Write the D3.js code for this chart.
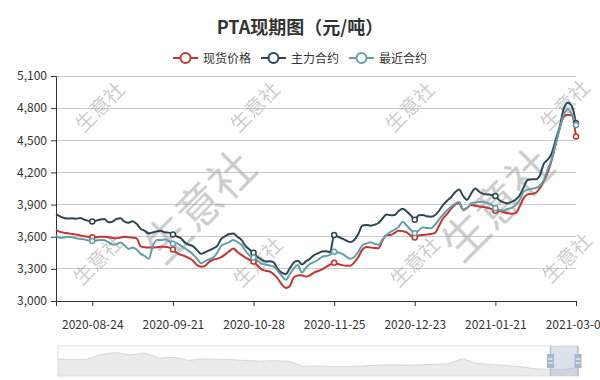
<!DOCTYPE html>
<html><head><meta charset="utf-8">
<script src="https://cdn.jsdelivr.net/npm/d3@7"></script>
<style>
body{margin:0;background:#fff}
svg{display:block}
text{font-family:"Noto Sans CJK SC","Noto Sans",sans-serif}
</style>
</head><body>
<svg id="chart" width="600" height="380"></svg>
<script>
// ---------------- data ----------------
const title = "PTA现期图（元/吨）";
const seriesNames = ["现货价格", "主力合约", "最近合约"];
const dates = [
"2020-08-11","2020-08-12","2020-08-13","2020-08-14","2020-08-17","2020-08-18","2020-08-19","2020-08-20","2020-08-21","2020-08-24",
"2020-08-25","2020-08-26","2020-08-27","2020-08-28","2020-08-31","2020-09-01","2020-09-02","2020-09-03","2020-09-04","2020-09-07",
"2020-09-08","2020-09-09","2020-09-10","2020-09-11","2020-09-14","2020-09-15","2020-09-16","2020-09-17","2020-09-18","2020-09-21",
"2020-09-22","2020-09-23","2020-09-24","2020-09-25","2020-09-28","2020-09-29","2020-10-09","2020-10-12","2020-10-13","2020-10-14",
"2020-10-15","2020-10-16","2020-10-19","2020-10-20","2020-10-21","2020-10-22","2020-10-23","2020-10-26","2020-10-27","2020-10-28",
"2020-10-29","2020-10-30","2020-11-02","2020-11-03","2020-11-04","2020-11-05","2020-11-06","2020-11-09","2020-11-10","2020-11-11",
"2020-11-12","2020-11-13","2020-11-16","2020-11-17","2020-11-18","2020-11-19","2020-11-20","2020-11-23","2020-11-24","2020-11-25",
"2020-11-26","2020-11-27","2020-11-30","2020-12-01","2020-12-02","2020-12-03","2020-12-04","2020-12-07","2020-12-08","2020-12-09",
"2020-12-10","2020-12-11","2020-12-14","2020-12-15","2020-12-16","2020-12-17","2020-12-18","2020-12-21","2020-12-22","2020-12-23",
"2020-12-24","2020-12-25","2020-12-28","2020-12-29","2020-12-30","2020-12-31","2021-01-04","2021-01-05","2021-01-06","2021-01-07",
"2021-01-08","2021-01-11","2021-01-12","2021-01-13","2021-01-14","2021-01-15","2021-01-18","2021-01-19","2021-01-20","2021-01-21",
"2021-01-22","2021-01-25","2021-01-26","2021-01-27","2021-01-28","2021-01-29","2021-02-01","2021-02-02","2021-02-03","2021-02-04",
"2021-02-05","2021-02-08","2021-02-18","2021-02-19","2021-02-22","2021-02-23","2021-02-24","2021-02-25","2021-02-26","2021-03-01"];

const spotPrice = [
3665,3645,3638,3632,3625,3620,3612,3605,3598,3594,
3596,3600,3600,3595,3588,3585,3592,3600,3595,3592,
3585,3510,3502,3500,3500,3502,3507,3507,3500,3480,
3448,3430,3418,3400,3375,3335,3320,3328,3365,3385,
3395,3410,3435,3465,3490,3458,3430,3405,3385,3368,
3330,3295,3282,3276,3250,3210,3155,3122,3140,3222,
3238,3240,3228,3240,3265,3280,3295,3318,3340,3358,
3345,3335,3330,3330,3360,3410,3480,3505,3500,3495,
3492,3565,3615,3616,3635,3656,3652,3640,3610,3592,
3612,3616,3620,3625,3635,3700,3770,3810,3860,3900,
3915,3850,3870,3895,3890,3882,3878,3870,3860,3843,
3843,3830,3818,3815,3820,3880,3960,3995,4000,4010,
4050,4120,4200,4320,4470,4620,4720,4738,4730,4535];

const mainContract = [
3810,3790,3775,3770,3772,3768,3775,3760,3748,3742,
3750,3760,3765,3735,3740,3765,3772,3740,3730,3745,
3720,3675,3655,3632,3640,3650,3655,3642,3638,3620,
3602,3585,3545,3525,3510,3475,3440,3455,3472,3490,
3515,3580,3605,3625,3630,3600,3570,3515,3480,3450,
3410,3385,3368,3370,3360,3300,3265,3250,3305,3360,
3375,3340,3370,3395,3428,3445,3462,3465,3455,3615,
3600,3583,3565,3550,3570,3625,3705,3710,3703,3712,
3728,3770,3808,3800,3803,3840,3862,3835,3800,3758,
3800,3803,3790,3787,3800,3840,3895,3935,3968,4015,
4040,3980,3945,4005,4050,4020,4000,3995,3990,3980,
3940,3920,3912,3925,3945,3985,4060,4130,4136,4136,
4170,4280,4320,4380,4510,4630,4800,4850,4815,4660];

const nearestContract = [
3610,3590,3592,3600,3595,3585,3580,3575,3565,3560,
3565,3570,3568,3550,3528,3530,3545,3520,3485,3500,
3480,3440,3420,3395,3510,3570,3570,3575,3560,3535,
3538,3515,3490,3465,3435,3395,3352,3372,3390,3405,
3450,3515,3535,3550,3570,3550,3525,3470,3425,3405,
3375,3350,3340,3332,3322,3280,3235,3198,3250,3305,
3335,3265,3310,3345,3362,3385,3412,3420,3430,3460,
3452,3440,3415,3395,3410,3460,3520,3535,3548,3535,
3525,3575,3615,3645,3665,3690,3740,3705,3665,3632,
3660,3687,3682,3678,3710,3760,3805,3845,3880,3910,
3925,3855,3870,3910,3920,3925,3925,3915,3900,3865,
3850,3845,3860,3870,3895,3940,4020,4040,4048,4055,
4075,4130,4230,4330,4470,4620,4740,4790,4740,4643];

const yTickValues = [3000, 3300, 3600, 3900, 4200, 4500, 4800, 5100];
const xTickLabels = ["2020-08-24","2020-09-21","2020-10-28","2020-11-25","2020-12-23","2021-01-21","2021-03-01"];

// long-history shadow shown in the zoom slider (price level, yuan/ton)
const historyShadow = [7630,7500,7600,9200,9800,9000,9700,8000,8300,7200,7700,7600,7400,7200,6950,7100,6900,5200,
  5350,5100,5100,5330,5560,5790,5560,5680,5900,6020,7800,6200,5800,5500,5100,4400,4180,4070,4870];
const windowStart = 0.947; // selected window share of the slider

// ---------------- drawing ----------------
(function draw() {
const colors = ["#c23531", "#2f4554", "#61a0a8"];
const seriesValues = [spotPrice, mainContract, nearestContract];

const svg = d3.select("#chart");
const pL = 56, pR = 576, pT = 76, pB = 301;

const x = d3.scalePoint().domain(dates).range([pL, pR]);
const y = d3.scaleLinear().domain([3000, 5100]).range([pB, pT]);

// title
svg.append("text").attr("x", 300).attr("y", 34).attr("text-anchor", "middle")
  .attr("font-size", 18).attr("font-weight", "bold").attr("fill", "#333").text(title);

// legend
const legendG = svg.append("g");
let lx = 0;
seriesNames.forEach((name, i) => {
  const g = legendG.append("g").attr("transform", `translate(${lx},0)`);
  g.append("line").attr("x1", 0).attr("x2", 25).attr("y1", 0).attr("y2", 0)
    .attr("stroke", colors[i]).attr("stroke-width", 2);
  g.append("circle").attr("cx", 12.5).attr("cy", 0).attr("r", 5)
    .attr("fill", "#fff").attr("stroke", colors[i]).attr("stroke-width", 2);
  const t = g.append("text").attr("x", 30).attr("y", 4.5).attr("font-size", 12)
    .attr("fill", "#333").text(name);
  lx += 30 + t.node().getComputedTextLength() + 10;
});
legendG.attr("transform", `translate(${300 - (lx - 10) / 2},58)`);

// grid
svg.append("g").selectAll("line").data(yTickValues.filter(v => v > 3000)).join("line")
  .attr("x1", pL).attr("x2", pR).attr("y1", d => y(d)).attr("y2", d => y(d))
  .attr("stroke", "#ccc").attr("stroke-width", 1).attr("shape-rendering", "crispEdges");

// watermark
const wm = svg.append("g").attr("fill", "#999").attr("opacity", 0.5);
const smallMarks = [[100,107],[255,107],[410,107],[565,105],[98,260],[258,262],[415,262],[567,258]];
smallMarks.forEach(([cx, cy]) => {
  wm.append("text").attr("transform", `translate(${cx},${cy}) rotate(-45)`)
    .attr("text-anchor", "middle").attr("dy", "0.35em").attr("font-size", 20).text("生意社");
});
[[200,207],[498,205]].forEach(([cx, cy]) => {
  wm.append("text").attr("transform", `translate(${cx},${cy}) rotate(-45)`)
    .attr("text-anchor", "middle").attr("dy", "0.35em").attr("font-size", 45).text("生意社");
});

// axes
const yAxis = svg.append("g").attr("transform", `translate(${pL},0)`)
  .call(d3.axisLeft(y).tickValues(yTickValues).tickFormat(d3.format(",")).tickSize(5).tickPadding(4));
const xTickDates = dates.filter(d => xTickLabels.includes(d));
const xAxis = svg.append("g").attr("transform", `translate(0,${pB})`)
  .call(d3.axisBottom(x).tickValues(xTickDates).tickSize(5).tickPadding(14));
[yAxis, xAxis].forEach(a => {
  a.select(".domain").attr("stroke", "#333");
  a.selectAll(".tick line").attr("stroke", "#333");
  a.selectAll("text").attr("font-size", 12).attr("fill", "#333")
    .attr("font-family", '"Noto Sans CJK SC","Noto Sans",sans-serif');
});

// lines
const line = d3.line().x((d, i) => x(dates[i])).y(d => y(d)).curve(d3.curveMonotoneX);
seriesValues.forEach((vals, s) => {
  svg.append("path").datum(vals).attr("d", line).attr("fill", "none")
    .attr("stroke", colors[s]).attr("stroke-width", 2).attr("stroke-linejoin", "round");
});
seriesValues.forEach((vals, s) => {
  svg.append("g").selectAll("circle")
    .data(dates.map((d, i) => [d, vals[i]]).filter(p => xTickDates.includes(p[0])))
    .join("circle").attr("cx", p => x(p[0])).attr("cy", p => y(p[1])).attr("r", 2.5)
    .attr("fill", "#fff").attr("stroke", colors[s]).attr("stroke-width", 1.5);
});

// data zoom slider
const sL = 58, sR = 578, sT = 346, sB = 376;
const sx = d3.scaleLinear().domain([0, historyShadow.length - 1]).range([sL, sR]);
const sy = d3.scaleLinear().domain([2000, 12000]).range([sB, sT]);
svg.append("path").datum(historyShadow)
  .attr("d", d3.area().x((d, i) => sx(i)).y0(sB).y1(d => sy(d)))
  .attr("fill", "#ebebeb");
svg.append("path").datum(historyShadow)
  .attr("d", d3.line().x((d, i) => sx(i)).y(d => sy(d)))
  .attr("fill", "none").attr("stroke", "#c9ced2").attr("stroke-width", 0.8);
svg.append("rect").attr("x", sL).attr("y", sT).attr("width", sR - sL).attr("height", sB - sT)
  .attr("fill", "none").attr("stroke", "#ddd");
const wx0 = sL + (sR - sL) * windowStart, wx1 = sR;
svg.append("rect").attr("x", wx0).attr("y", sT).attr("width", wx1 - wx0).attr("height", sB - sT)
  .attr("fill", "rgba(167,183,204,0.4)");
[wx0, wx1].forEach(hx => {
  svg.append("line").attr("x1", hx).attr("x2", hx).attr("y1", sT).attr("y2", sB)
    .attr("stroke", "#a7b7cc").attr("stroke-width", 1.2);
  svg.append("rect").attr("x", hx - 3.5).attr("y", (sT + sB) / 2 - 7).attr("width", 7).attr("height", 14)
    .attr("fill", "#a7b7cc");
  [-2.5, 1.5].forEach(dy => {
    svg.append("rect").attr("x", hx - 2.2).attr("y", (sT + sB) / 2 + dy).attr("width", 4.4).attr("height", 1)
      .attr("fill", "#fff");
  });
});
})();
</script>
</body></html>
